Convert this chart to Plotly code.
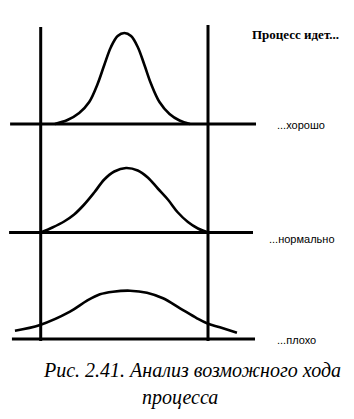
import plotly.graph_objects as go

# --- data ---
# x: process parameter, tolerance limits at 0 and 10
lower_limit, upper_limit = 0.0, 10.0
row_labels = ["...хорошо", "...нормально", "...плохо"]
row_baselines = [21.5, 10.65, 0.0]
baseline_start = [-1.83, -1.89, -1.72]
baseline_end = [12.87, 12.69, 12.81]

good_x = [0.85, 1.6, 2.3, 2.9, 3.4, 3.8, 4.2, 4.6, 5.0, 5.4, 5.8, 6.2, 6.6, 7.1, 7.7, 8.3, 8.92]
good_h = [0.0, 0.4, 1.1, 2.2, 4.0, 5.9, 7.7, 8.8, 9.1, 8.8, 7.7, 5.9, 4.0, 2.2, 1.0, 0.35, 0.0]

normal_x = [0.0, 0.7, 1.4, 2.0, 2.6, 3.2, 3.8, 4.4, 5.1, 5.8, 6.4, 7.0, 7.6, 8.2, 8.8, 9.4, 10.0]
normal_h = [0.0, 0.5, 1.1, 1.8, 2.8, 4.0, 5.3, 6.1, 6.45, 6.2, 5.5, 4.4, 3.3, 2.0, 1.05, 0.4, 0.0]

bad_x = [-1.54, -0.04, 1.75, 2.77, 3.54, 4.32, 5.34, 6.35, 7.31, 8.33, 9.34, 9.94, 10.71, 11.73]
bad_h = [0.83, 1.4, 2.73, 3.83, 4.47, 4.73, 4.83, 4.63, 4.07, 3.07, 2.07, 1.57, 1.17, 0.63]

limit_top = [31.2, 31.4]
limit_bottom = -0.2

title_text = "Процесс идет..."
caption_1 = "Рис. 2.41. Анализ возможного хода"
caption_2 = "процесса"

curves = [(good_x, good_h), (normal_x, normal_h), (bad_x, bad_h)]

fig = go.Figure()

# baselines
for b, xs, xe in zip(row_baselines, baseline_start, baseline_end):
    fig.add_trace(go.Scatter(x=[xs, xe], y=[b, b], mode="lines",
                             line=dict(color="black", width=3), hoverinfo="skip"))

# tolerance limits
for lim, top in zip([lower_limit, upper_limit], limit_top):
    fig.add_trace(go.Scatter(x=[lim, lim], y=[limit_bottom, top], mode="lines",
                             line=dict(color="black", width=3), hoverinfo="skip"))

# distribution curves
for (xs, hs), b in zip(curves, row_baselines):
    fig.add_trace(go.Scatter(x=xs, y=[b + h for h in hs], mode="lines",
                             line=dict(color="black", width=2.6, shape="spline", smoothing=1.0),
                             hoverinfo="skip"))

label_x = [14.0, 13.52, 14.0]
label_y = [21.4, 10.0, -0.1]
for t, lx, ly in zip(row_labels, label_x, label_y):
    fig.add_annotation(x=lx, y=ly, text=t, showarrow=False, xanchor="left", yanchor="middle",
                       font=dict(family="Liberation Sans", size=11, color="black"))

fig.add_annotation(x=295 / 354, y=1 - 35 / 419, xref="paper", yref="paper", text="<b>" + title_text + "</b>",
                   showarrow=False, xanchor="center", yanchor="middle",
                   font=dict(family="Liberation Serif", size=13, color="black"))

fig.add_annotation(x=192 / 354, y=1 - 370 / 419, xref="paper", yref="paper", text="<i>" + caption_1 + "</i>",
                   showarrow=False, xanchor="center", yanchor="middle",
                   font=dict(family="Liberation Serif", size=20, color="black"))
fig.add_annotation(x=180 / 354, y=1 - 397 / 419, xref="paper", yref="paper", text="<i>" + caption_2 + "</i>",
                   showarrow=False, xanchor="center", yanchor="middle",
                   font=dict(family="Liberation Serif", size=20, color="black"))

fig.update_layout(
    width=354, height=419, margin=dict(l=0, r=0, t=0, b=0),
    paper_bgcolor="white", plot_bgcolor="white", showlegend=False,
    xaxis=dict(range=[-2.433, 18.727], visible=False, fixedrange=True),
    yaxis=dict(range=[-8.0, 33.9], visible=False, fixedrange=True),
)

fig.write_html("out.html")
